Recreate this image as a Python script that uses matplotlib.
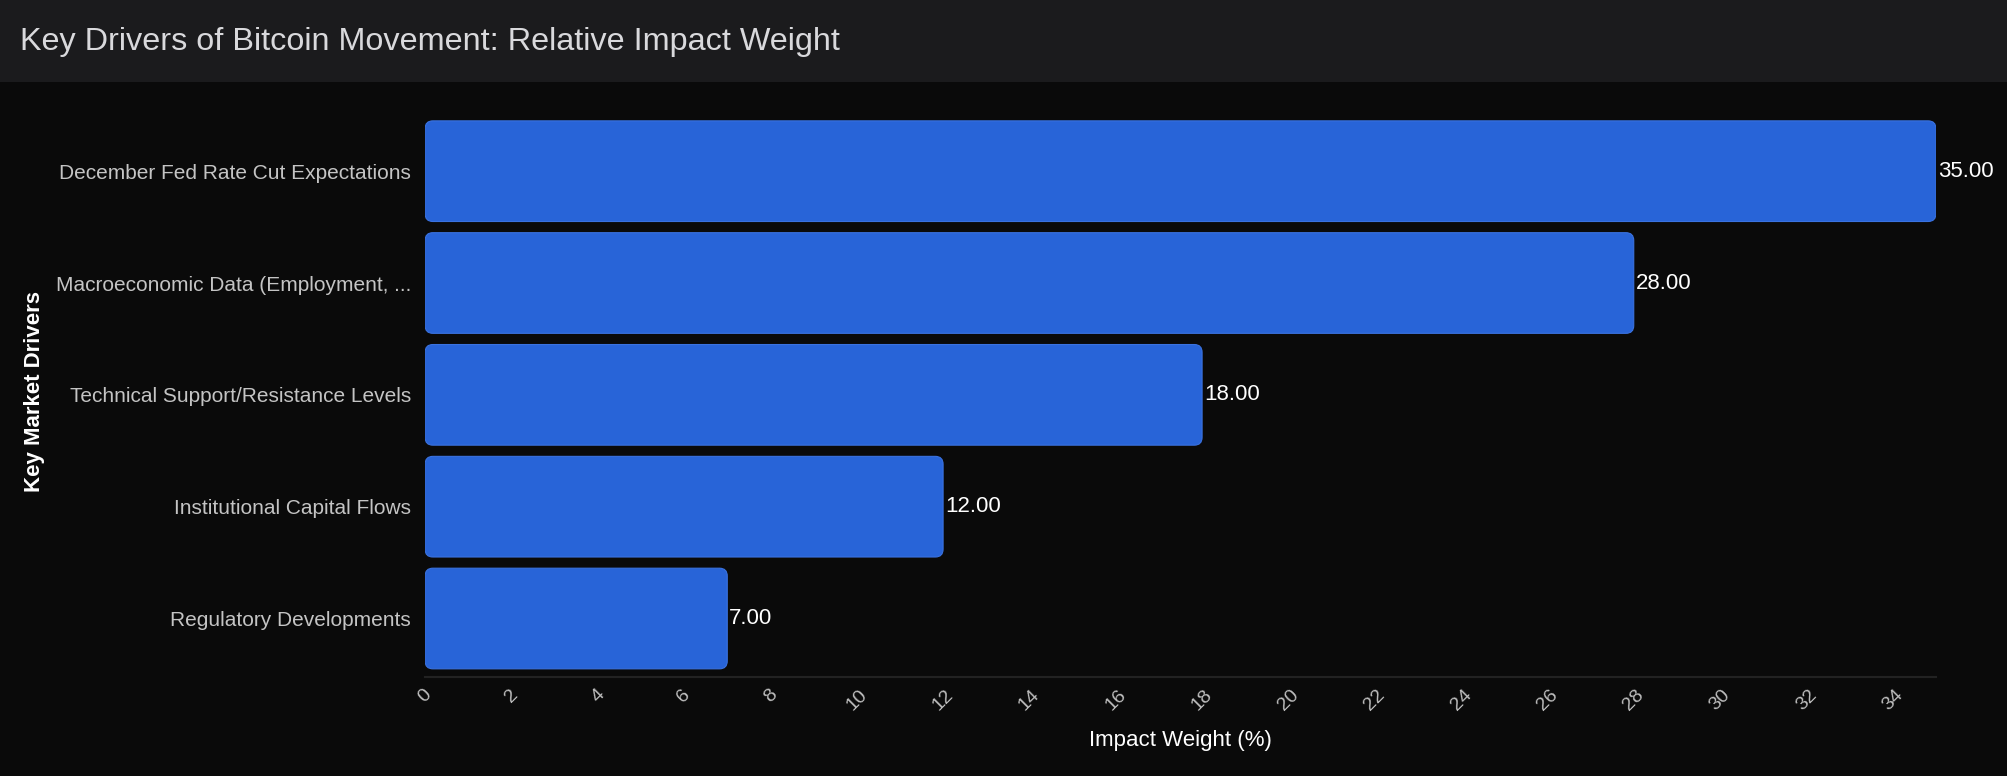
import matplotlib
matplotlib.use("Agg")
import matplotlib.pyplot as plt
from matplotlib.patches import FancyBboxPatch, Rectangle

# ── Data ──────────────────────────────────────────────────────────────────────
title = "Key Drivers of Bitcoin Movement: Relative Impact Weight"
drivers = [
    "December Fed Rate Cut Expectations",
    "Macroeconomic Data (Employment, ...",
    "Technical Support/Resistance Levels",
    "Institutional Capital Flows",
    "Regulatory Developments",
]
weights = [35, 28, 18, 12, 7]
x_ticks = list(range(0, 35, 2))

# ── Style ─────────────────────────────────────────────────────────────────────
BG = "#0a0a0a"
HEADER = "#1b1b1d"
BAR = "#2864d8"

plt.rcParams["font.family"] = ["Liberation Sans", "DejaVu Sans"]

fig = plt.figure(figsize=(20.08, 7.76), dpi=100, facecolor=BG)

# header band with the title
fig.patches.append(Rectangle((0, 1 - 82 / 776), 1, 82 / 776, transform=fig.transFigure,
                             facecolor=HEADER, edgecolor="none", zorder=0))
fig.text(20 / 2008, 1 - 42 / 776, title, color="#d9d9dc", fontsize=23.3,
         ha="left", va="center")

ax = fig.add_axes([0.2117, 0.128, 0.7524, 0.735])
ax.set_facecolor(BG)

y_pos = list(range(len(drivers)))
bars = ax.barh(y_pos, weights, height=0.9, color=BAR)

# swap plain rectangles for rounded ones (same data geometry)
for rect in bars:
    rect.set_visible(False)
    ax.add_patch(FancyBboxPatch(
        (rect.get_x(), rect.get_y()), rect.get_width(), rect.get_height(),
        boxstyle="round,pad=0,rounding_size=0.18", mutation_aspect=0.39,
        facecolor=BAR, edgecolor="#3a72e0", linewidth=0.8, zorder=2))

for y, v in zip(y_pos, weights):
    ax.annotate(f"{v:.2f}", xy=(v, y), xytext=(1.5, 0), textcoords="offset points",
                ha="left", va="center", color="white", fontsize=16)

ax.set_xlim(0, 35)
ax.set_ylim(4.52, -0.58)
ax.set_yticks(y_pos)
ax.set_yticklabels(drivers)
ax.set_xticks(x_ticks)
ax.set_xticklabels([str(t) for t in x_ticks], rotation=45, ha="center")

ax.tick_params(axis="y", length=0, pad=10, labelsize=15, labelcolor="#c4c4c4")
ax.tick_params(axis="x", length=0, pad=7, labelsize=14, labelcolor="#bdbdbd")

ax.set_ylabel("Key Market Drivers", color="white", fontsize=16, fontweight="bold")
ax.yaxis.set_label_coords(-0.2515, 0.5)
ax.set_xlabel("Impact Weight (%)", color="white", fontsize=16)
ax.xaxis.set_label_coords(0.5, -0.094)

for side in ("top", "right", "left"):
    ax.spines[side].set_visible(False)
ax.spines["bottom"].set_color("#222222")
ax.spines["bottom"].set_linewidth(1.5)

fig.savefig("out.png", dpi=100, facecolor=BG)
plt.close(fig)
